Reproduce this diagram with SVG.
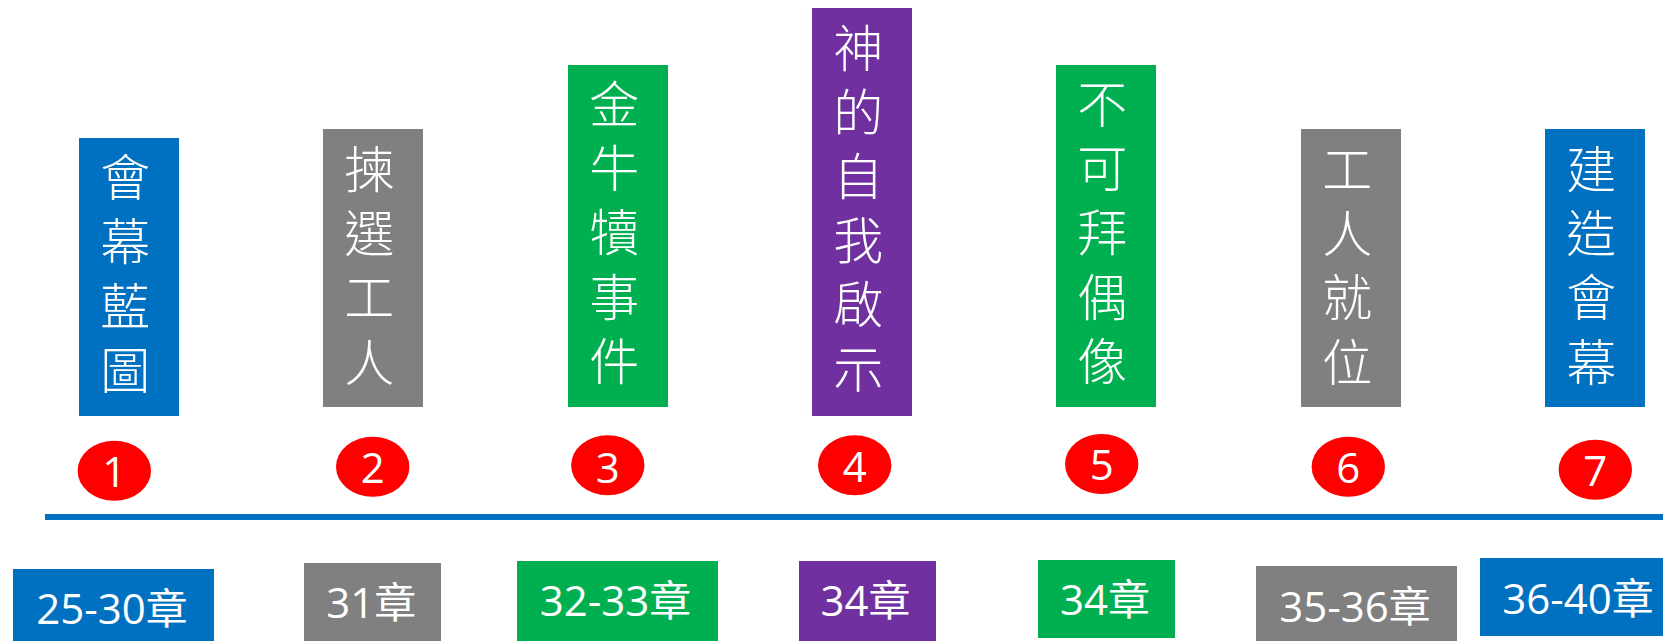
<svg xmlns="http://www.w3.org/2000/svg" width="1663" height="641" viewBox="0 0 1663 641">
<style>
.bg{fill:#FFFFFF}
.blue{fill:#0070C0}
.gray{fill:#808080}
.green{fill:#00B050}
.purple{fill:#7030A0}
.badge{fill:#FF0000}
.vt{font-family:"Noto Sans CJK TC","Noto Sans CJK SC",sans-serif;font-size:50px;font-weight:300;fill:#FFFFFF;writing-mode:vertical-rl;text-orientation:upright;letter-spacing:14.2px;text-anchor:start}
.ch{font-family:"Open Sans","Noto Sans CJK TC",sans-serif;font-size:42px;fill:#FFFFFF;text-anchor:middle}
.num{font-family:"Open Sans","Liberation Sans",sans-serif;font-size:42px;fill:#FFFFFF;text-anchor:middle}
.axis{stroke:#0070C0;stroke-width:6;fill:none}
</style>
<rect class="bg" x="0" y="0" width="1663" height="641"/>

<g id="connectors">
  <line class="axis" x1="45" y1="517" x2="1663" y2="517"/>
</g>

<g id="node1">
  <rect class="blue" x="79" y="138" width="100" height="278"/>
  <text class="vt" x="125.3" y="152.3">會幕藍圖</text>
  <ellipse class="badge" cx="114.3" cy="470.7" rx="36.7" ry="30"/>
  <text class="num" x="114.3" y="486.7">1</text>
  <rect class="blue" x="13" y="569" width="201" height="72"/>
  <text class="ch" x="112" y="624.3">25-30章</text>
</g>

<g id="node2">
  <rect class="gray" x="323" y="129" width="100" height="278"/>
  <text class="vt" x="369.3" y="144">揀選工人</text>
  <ellipse class="badge" cx="372.7" cy="466.7" rx="36.7" ry="30"/>
  <text class="num" x="372.7" y="482.5">2</text>
  <rect class="gray" x="304" y="563" width="137" height="78"/>
  <text class="ch" x="371.3" y="618.3">31章</text>
</g>

<g id="node3">
  <rect class="green" x="568" y="65" width="100" height="342"/>
  <text class="vt" x="614.3" y="79">金牛犢事件</text>
  <ellipse class="badge" cx="607.8" cy="465.3" rx="36.7" ry="30"/>
  <text class="num" x="607.8" y="482.5">3</text>
  <rect class="green" x="517" y="561" width="201" height="80"/>
  <text class="ch" x="615.5" y="616">32-33章</text>
</g>

<g id="node4">
  <rect class="purple" x="812" y="8" width="100" height="408"/>
  <text class="vt" x="858.3" y="22.5">神的自我啟示</text>
  <ellipse class="badge" cx="854.7" cy="465.3" rx="36.7" ry="30"/>
  <text class="num" x="854.7" y="482">4</text>
  <rect class="purple" x="799" y="561" width="137" height="80"/>
  <text class="ch" x="865.5" y="616">34章</text>
</g>

<g id="node5">
  <rect class="green" x="1056" y="65" width="100" height="342"/>
  <text class="vt" x="1102.3" y="79">不可拜偶像</text>
  <ellipse class="badge" cx="1101.7" cy="464" rx="36.7" ry="30"/>
  <text class="num" x="1101.7" y="480">5</text>
  <rect class="green" x="1038" y="560" width="137" height="78"/>
  <text class="ch" x="1105" y="615">34章</text>
</g>

<g id="node6">
  <rect class="gray" x="1301" y="129" width="100" height="278"/>
  <text class="vt" x="1347.3" y="144">工人就位</text>
  <ellipse class="badge" cx="1348.3" cy="466.7" rx="36.7" ry="30"/>
  <text class="num" x="1348.3" y="482.5">6</text>
  <rect class="gray" x="1256" y="566" width="201" height="75"/>
  <text class="ch" x="1355" y="621.7">35-36章</text>
</g>

<g id="node7">
  <rect class="blue" x="1545" y="129" width="100" height="278"/>
  <text class="vt" x="1591.3" y="144">建造會幕</text>
  <ellipse class="badge" cx="1595.3" cy="469.7" rx="36.7" ry="30"/>
  <text class="num" x="1595.3" y="485.5">7</text>
  <rect class="blue" x="1480" y="558" width="201" height="78"/>
  <text class="ch" x="1578" y="614">36-40章</text>
</g>
</svg>
